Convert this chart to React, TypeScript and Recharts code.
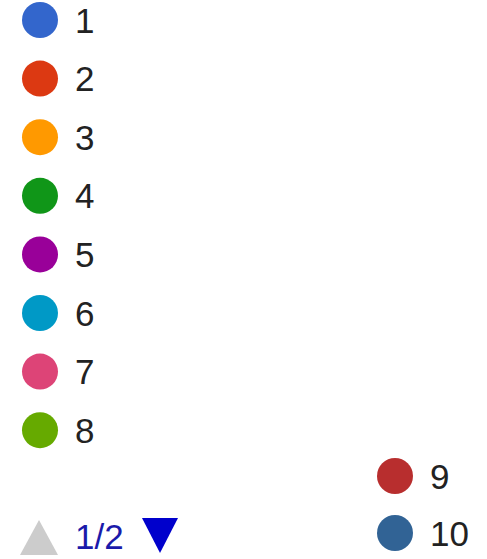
import React from "react";
import { PieChart, Pie, Cell, Legend } from "recharts";

const categories = ["1", "2", "3", "4", "5", "6", "7", "8", "9", "10"];
const values = [1, 1, 1, 1, 1, 1, 1, 1, 1, 1];
const colors = [
  "#3366CC",
  "#DC3912",
  "#FF9900",
  "#109618",
  "#990099",
  "#0099C6",
  "#DD4477",
  "#66AA00",
  "#B82E2E",
  "#316395",
];
const pageLabel = "1/2";

const data = categories.map((c, i) => ({ name: c, value: values[i] }));

const FONT = "'Liberation Sans', Arial, sans-serif";
const FS = 35;

function LegendContent(props: any) {
  const raw: any[] =
    props.payload && props.payload.length
      ? props.payload
      : categories.map((c, i) => ({ value: c, color: colors[i] }));
  const payload = [...raw].sort(
    (a, b) => categories.indexOf(String(a.value)) - categories.indexOf(String(b.value))
  );
  const left = payload.slice(0, 8);
  const right = payload.slice(8);
  return (
    <svg width={487} height={559} style={{ display: "block" }}>
      {left.map((p, i) => {
        const cy = 20 + i * 58.6;
        return (
          <g key={"l" + i}>
            <circle cx={40} cy={cy} r={18} fill={p.color} />
            <text x={75} y={cy + 12.5} fontSize={FS} fontFamily={FONT} fill="#222222">
              {p.value}
            </text>
          </g>
        );
      })}
      {right.map((p, i) => {
        const cy = 476 + i * 57;
        return (
          <g key={"r" + i}>
            <circle cx={395} cy={cy} r={18} fill={p.color} />
            <text x={430} y={cy + 12.5} fontSize={FS} fontFamily={FONT} fill="#222222">
              {p.value}
            </text>
          </g>
        );
      })}
      <polygon points="20,555 58,555 39,520" fill="#CCCCCC" />
      <text x={75} y={549} fontSize={FS} fontFamily={FONT} fill="#1a1aaa">
        {pageLabel}
      </text>
      <polygon points="142,518 178,518 160,553" fill="#0000CC" />
    </svg>
  );
}

export default function App() {
  return (
    <div style={{ position: "absolute", left: 0, top: 0, width: 487, height: 559, background: "#fff" }}>
      <PieChart width={487} height={559} margin={{ top: 0, right: 0, bottom: 0, left: 0 }}>
        <Pie
          data={data}
          dataKey="value"
          nameKey="name"
          cx={243}
          cy={280}
          outerRadius={0}
          isAnimationActive={false}
          stroke="none"
          legendType="circle"
        >
          {data.map((d, i) => (
            <Cell key={d.name} fill={colors[i]} />
          ))}
        </Pie>
        <Legend
          content={<LegendContent />}
          wrapperStyle={{ position: "absolute", left: 0, top: 0, width: 487, height: 559 }}
        />
      </PieChart>
    </div>
  );
}
